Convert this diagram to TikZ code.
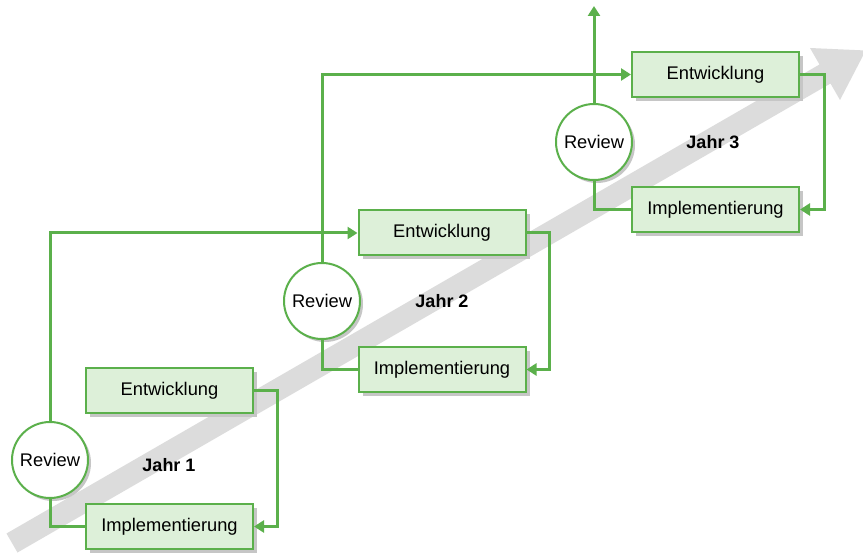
\documentclass[tikz,border=0pt]{standalone}
\usepackage{fontspec}
\setmainfont{Liberation Sans}
\usetikzlibrary{arrows.meta,shadows}
\definecolor{lgreen}{HTML}{5BB04B}
\definecolor{bfill}{HTML}{DDF0D9}
\definecolor{bandgrey}{HTML}{DCDCDC}
\tikzset{
  stagebox/.style={draw=lgreen, line width=2pt, fill=bfill, minimum width=167pt,
    minimum height=45pt, inner sep=0pt, font=\fontsize{18.3}{22}\selectfont,
    drop shadow={shadow xshift=4pt, shadow yshift=-4pt, fill=gray!45, opacity=1}},
  reviewc/.style={circle, draw=lgreen, line width=2pt, fill=white, minimum size=76pt,
    inner sep=0pt, font=\fontsize{18.3}{22}\selectfont,
    drop shadow={shadow xshift=3pt, shadow yshift=-3pt, fill=gray!45, opacity=1}},
  conn/.style={draw=lgreen, line width=3pt},
  arr/.style={conn, -{Triangle[length=10pt,width=12pt]}},
  jahr/.style={font=\bfseries\fontsize{18}{22}\selectfont}
}
\begin{document}
\begin{tikzpicture}[x=1pt,y=-1pt]
\clip (0,0) rectangle (863,556);
\fill[white] (0,0) rectangle (863,556);
% big grey arrow
\fill[bandgrey] (6.5,533.5) -- (17.5,552.5) -- (830.5,83.5) -- (840,100) -- (865.7,50.5)
  -- (810,48) -- (819.5,64.5) -- cycle;
% nodes
\node[stagebox] (e1) at (169.5,390.5) {Entwicklung};
\node[stagebox] (i1) at (169.5,526.5) {Implementierung};
\node[reviewc]  (r1) at (50,460) {Review};
\node[jahr]     (j1) at (169,465) {Jahr 1};
\node[stagebox] (e2) at (442,233) {Entwicklung};
\node[stagebox] (i2) at (442,369.5) {Implementierung};
\node[reviewc]  (r2) at (322,301) {Review};
\node[jahr]     (j2) at (442,301) {Jahr 2};
\node[stagebox] (e3) at (715.5,74.5) {Entwicklung};
\node[stagebox] (i3) at (715.5,209.5) {Implementierung};
\node[reviewc]  (r3) at (594,142) {Review};
\node[jahr]     (j3) at (713,142) {Jahr 3};
\coordinate (top3) at (594,6);
% connectors
\draw[arr] (r1.north) |- (e2.west);
\draw[arr] (e1.east) -- ++(23,0) |- (i1.east);
\draw[conn] (i1.west) -| (r1.south);
\draw[arr] (r2.north) |- (e3.west);
\draw[arr] (e2.east) -- ++(23,0) |- (i2.east);
\draw[conn] (i2.west) -| (r2.south);
\draw[arr] (r3.north) -- (top3);
\draw[arr] (e3.east) -- ++(24,0) |- (i3.east);
\draw[conn] (i3.west) -| (r3.south);
\end{tikzpicture}
\end{document}
